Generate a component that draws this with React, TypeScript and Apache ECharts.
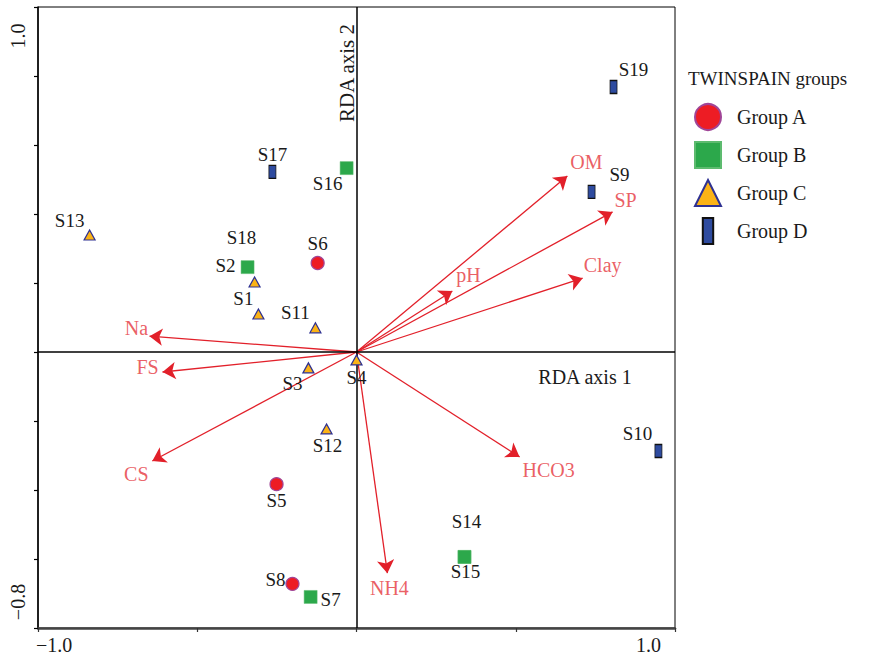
import React, { useEffect, useRef } from 'react';
import * as echarts from 'echarts';

// Sample scores (RDA axis 1, RDA axis 2) by TWINSPAN group
const groupANames = ['S5', 'S6', 'S8'];
const groupAX = [-0.251, -0.122, -0.201];
const groupAY = [-0.383, 0.258, -0.672];

const groupBNames = ['S7', 'S14', 'S15', 'S16', 'S18'];
const groupBX = [-0.144, 0.339, 0.339, -0.031, -0.342];
const groupBY = [-0.71, -0.594, -0.594, 0.533, 0.246];

const groupCNames = ['S1', 'S2', 'S3', 'S4', 'S11', 'S12', 'S13'];
const groupCX = [-0.308, -0.32, -0.151, 0.0, -0.129, -0.094, -0.838];
const groupCY = [0.11, 0.203, -0.046, -0.023, 0.07, -0.223, 0.339];

const groupDNames = ['S9', 'S10', 'S17', 'S19'];
const groupDX = [0.738, 0.948, -0.264, 0.807];
const groupDY = [0.464, -0.287, 0.522, 0.768];

// Environmental variable vectors
const envVars = ['OM', 'SP', 'Clay', 'pH', 'Na', 'FS', 'CS', 'NH4', 'HCO3'];
const envX = [0.662, 0.804, 0.71, 0.301, -0.65, -0.609, -0.641, 0.097, 0.512];
const envY = [0.51, 0.406, 0.214, 0.177, 0.046, -0.058, -0.316, -0.641, -0.304];

// Axis tick labels (only the ends are labelled)
const xTickLabels = ['−1.0', '1.0'];
const yTickLabels = ['1.0', '−0.8'];

const groupNames = ['Group A', 'Group B', 'Group C', 'Group D'];

// Label placement (pixel offsets from marker centre) — styling only
const sampleLabelOffset: Record<string, number[]> = {
  S1: [-15, -16], S2: [-29, -16], S3: [-16, 16], S4: [0, 18], S5: [0, 16],
  S6: [0, -19], S7: [20, 3], S8: [-17, -4], S9: [28, -17], S10: [-21, -18],
  S11: [-20, -15], S12: [1, 17], S13: [-20, -15], S14: [2, -35], S15: [1, 15],
  S16: [-19, 15], S17: [0, -17], S18: [-6, -30], S19: [20, -18],
};
const envLabelOffset: Record<string, number[]> = {
  OM: [19, -14], SP: [13, -12], Clay: [20, -13], pH: [16, -16], Na: [-13, -8],
  FS: [-15, -5], CS: [-16, 13], NH4: [2, 15], HCO3: [29, 13],
};

const FONT = "'Liberation Serif', 'DejaVu Serif', serif";
const RED = '#e2202a';
const RED_TEXT = '#e5363c';

function pts(names: string[], xs: number[], ys: number[]) {
  return names.map((n, i) => ({
    name: n,
    value: [xs[i], ys[i]],
    label: { offset: sampleLabelOffset[n] || [0, 0] },
  }));
}

const sampleLabel = {
  show: true,
  position: 'inside',
  formatter: '{b}',
  fontFamily: FONT,
  fontSize: 19,
  color: '#1a1a1a',
};

export default function App() {
  const ref = useRef<HTMLDivElement>(null);
  useEffect(() => {
    if (!ref.current) return;
    const chart = echarts.init(ref.current, null, { renderer: 'svg' });
    const option: any = {
      animation: false,
      backgroundColor: '#fff',
      title: {
        text: 'TWINSPAIN groups',
        left: 688,
        top: 69,
        padding: 0,
        textStyle: { fontFamily: FONT, fontSize: 19, fontWeight: 'normal', color: '#1a1a1a' },
      },
      legend: {
        orient: 'vertical',
        left: 694,
        top: 103,
        padding: 0,
        itemWidth: 26,
        itemHeight: 26,
        itemGap: 10,
        selectedMode: false,
        data: [
          { name: groupNames[0], icon: 'circle' },
          { name: groupNames[1], icon: 'rect' },
          { name: groupNames[2], icon: 'triangle' },
          { name: groupNames[3], icon: 'path://M0,0L12,0L12,30L0,30Z' },
        ],
        textStyle: { fontFamily: FONT, fontSize: 20, color: '#1a1a1a', padding: [0, 0, 0, 11] },
      },
      grid: {
        left: 38,
        right: 194,
        top: 7,
        bottom: 32,
        show: true,
        borderColor: '#000',
        borderWidth: 1,
      },
      xAxis: {
        type: 'value',
        min: -1,
        max: 1,
        interval: 0.5,
        axisLine: { onZero: false, lineStyle: { color: '#444', width: 2.5 } },
        axisTick: { show: true, length: 4, lineStyle: { color: '#333', width: 1.2 } },
        axisLabel: { show: false },
        splitLine: { show: false },
      },
      yAxis: {
        type: 'value',
        min: -0.8,
        max: 1.0,
        interval: 0.2,
        axisLine: { onZero: false, lineStyle: { color: '#000', width: 1.5 } },
        axisTick: { show: true, length: 4, lineStyle: { color: '#000', width: 1.2 } },
        axisLabel: { show: false },
        splitLine: { show: false },
      },
      graphic: [
        {
          type: 'text', x: 36, y: 645,
          style: { text: xTickLabels[0], fontFamily: FONT, fontSize: 20, fill: '#1a1a1a', textAlign: 'left', textVerticalAlign: 'middle' },
        },
        {
          type: 'text', x: 661, y: 645,
          style: { text: xTickLabels[1], fontFamily: FONT, fontSize: 20, fill: '#1a1a1a', textAlign: 'right', textVerticalAlign: 'middle' },
        },
        {
          type: 'text', x: 18, y: 36, rotation: Math.PI / 2,
          style: { text: yTickLabels[0], fontFamily: FONT, fontSize: 20, fill: '#1a1a1a', textAlign: 'center', textVerticalAlign: 'middle' },
        },
        {
          type: 'text', x: 18, y: 602, rotation: Math.PI / 2,
          style: { text: yTickLabels[1], fontFamily: FONT, fontSize: 20, fill: '#1a1a1a', textAlign: 'center', textVerticalAlign: 'middle' },
        },
        {
          type: 'text', x: 585, y: 377,
          style: { text: 'RDA axis 1', fontFamily: FONT, fontSize: 20, fill: '#1a1a1a', textAlign: 'center', textVerticalAlign: 'middle' },
        },
        {
          type: 'text', x: 347, y: 73, rotation: Math.PI / 2,
          style: { text: 'RDA axis 2', fontFamily: FONT, fontSize: 21, fill: '#1a1a1a', textAlign: 'center', textVerticalAlign: 'middle' },
        },
      ],
      series: [
        {
          type: 'scatter',
          name: 'zero-lines',
          data: [],
          z: 1,
          silent: true,
          markLine: {
            silent: true,
            symbol: 'none',
            label: { show: false },
            lineStyle: { color: '#000', width: 1.5, type: 'solid' },
            data: [{ xAxis: 0 }, { yAxis: 0 }],
          },
        },
        {
          type: 'lines',
          name: 'vectors',
          coordinateSystem: 'cartesian2d',
          z: 3,
          silent: true,
          symbol: ['none', 'arrow'],
          symbolSize: [8, 13],
          lineStyle: { color: RED, width: 1.3, opacity: 1 },
          data: envVars.map((n, i) => ({ name: n, coords: [[0, 0], [envX[i], envY[i]]] })),
        },
        {
          type: 'scatter',
          name: 'vector-labels',
          z: 4,
          silent: true,
          symbol: 'circle',
          symbolSize: 1,
          itemStyle: { color: 'transparent' },
          label: {
            show: true,
            position: 'inside',
            formatter: '{b}',
            fontFamily: FONT,
            fontSize: 20,
            color: RED_TEXT,
          },
          data: envVars.map((n, i) => ({
            name: n,
            value: [envX[i], envY[i]],
            label: { offset: envLabelOffset[n] },
          })),
        },
        {
          type: 'scatter',
          name: groupNames[0],
          z: 5,
          symbol: 'circle',
          symbolSize: 13,
          itemStyle: { color: '#ed1c24', borderColor: '#a04597', borderWidth: 1.2, opacity: 1 },
          label: sampleLabel,
          data: pts(groupANames, groupAX, groupAY),
        },
        {
          type: 'scatter',
          name: groupNames[1],
          z: 5,
          symbol: 'rect',
          symbolSize: 13,
          itemStyle: { color: '#2ca84b', borderColor: '#5dbb6f', borderWidth: 0.5, opacity: 1 },
          label: sampleLabel,
          data: pts(groupBNames, groupBX, groupBY),
        },
        {
          type: 'scatter',
          name: groupNames[2],
          z: 5,
          symbol: 'triangle',
          symbolSize: [11, 10],
          itemStyle: { color: '#fbb316', borderColor: '#2e3192', borderWidth: 1.2, opacity: 1 },
          label: sampleLabel,
          data: pts(groupCNames, groupCX, groupCY),
        },
        {
          type: 'scatter',
          name: groupNames[3],
          z: 5,
          symbol: 'rect',
          symbolSize: [7, 13],
          itemStyle: { color: '#2e4b9f', borderColor: '#111', borderWidth: 1, opacity: 1 },
          label: sampleLabel,
          data: pts(groupDNames, groupDX, groupDY),
        },
      ],
    };
    chart.setOption(option);
    return () => chart.dispose();
  }, []);
  return <div ref={ref} style={{ width: 869, height: 660, position: 'absolute', left: 0, top: 0 }} />;
}
